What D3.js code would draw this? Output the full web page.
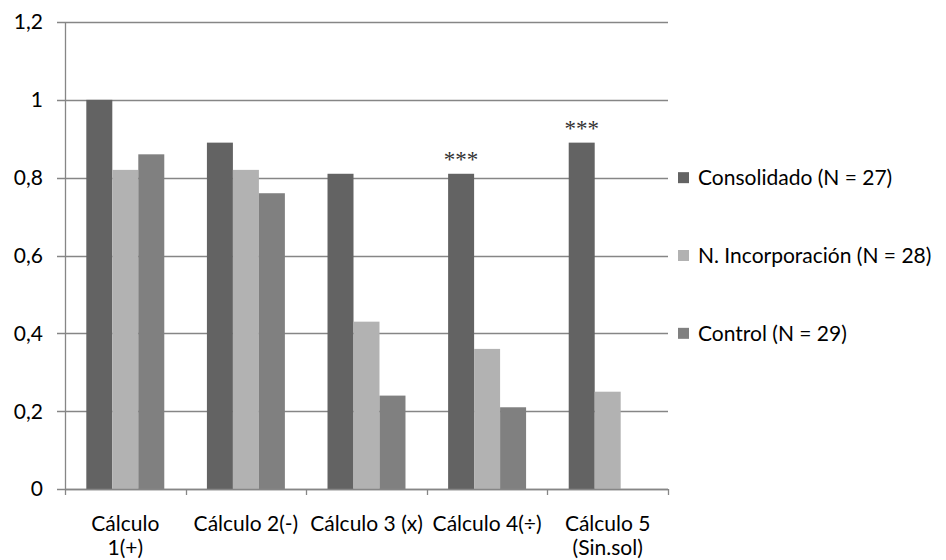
<!DOCTYPE html>
<html>
<head>
<meta charset="utf-8">
<script src="https://cdn.jsdelivr.net/npm/d3@7"></script>
<style>
  body { margin: 0; background: #fff; }
  text { font-family: Lato, "Open Sans", sans-serif; fill: #000; }
</style>
</head>
<body>
<div id="chart"></div>
<script>
var categories = ["Cálculo 1(+)", "Cálculo 2(-)", "Cálculo 3 (x)", "Cálculo 4(÷)", "Cálculo 5 (Sin.sol)"];
var categoryLines = [["Cálculo", "1(+)"], ["Cálculo 2(-)"], ["Cálculo 3 (x)"], ["Cálculo 4(÷)"], ["Cálculo 5", "(Sin.sol)"]];
var seriesNames = ["Consolidado (N = 27)", "N. Incorporación (N = 28)", "Control (N = 29)"];
var consolidado = [1.00, 0.89, 0.81, 0.81, 0.89];
var incorporacion = [0.82, 0.82, 0.43, 0.36, 0.25];
var control = [0.86, 0.76, 0.24, 0.21, null];
var significance = ["", "", "", "***", "***"];
var yTicks = [0, 0.2, 0.4, 0.6, 0.8, 1, 1.2];
var colors = ["#636363", "#b2b2b2", "#808080"];

var seriesValues = [consolidado, incorporacion, control];

var margin = {top: 22, right: 278, bottom: 71, left: 65};
var width = 946 - margin.left - margin.right;
var height = 560 - margin.top - margin.bottom;

var svg = d3.select("#chart").append("svg")
  .attr("width", 946)
  .attr("height", 560)
  .append("g")
  .attr("transform", "translate(" + margin.left + "," + margin.top + ")");

var x = d3.scaleBand().domain(categories).range([0, width]).paddingInner(0).paddingOuter(0);
var x1 = d3.scaleBand().domain(d3.range(3)).range([0, x.bandwidth()]).paddingInner(0).paddingOuter(0.82);
var y = d3.scaleLinear().domain([0, 1.2]).range([height, 0]);

// gridlines
svg.selectAll("line.grid")
  .data(yTicks)
  .enter().append("line")
  .attr("class", "grid")
  .attr("x1", -8)
  .attr("x2", width)
  .attr("y1", function(d) { return Math.round(y(d)) + 0.5; })
  .attr("y2", function(d) { return Math.round(y(d)) + 0.5; })
  .attr("stroke", "#868686")
  .attr("stroke-width", 1.3);

svg.selectAll("text.ylab")
  .data(yTicks)
  .enter().append("text")
  .attr("class", "ylab")
  .attr("x", -22)
  .attr("y", function(d) { return y(d); })
  .attr("dy", "0.35em")
  .attr("text-anchor", "end")
  .style("font-size", "21px")
  .text(function(d) { return String(d).replace(".", ","); });

// bars
var groups = svg.selectAll("g.cat")
  .data(categories)
  .enter().append("g")
  .attr("class", "cat")
  .attr("transform", function(d) { return "translate(" + x(d) + ",0)"; });

groups.selectAll("rect")
  .data(function(d, i) {
    return seriesValues.map(function(s, j) { return {s: j, v: s[i]}; })
      .filter(function(e) { return e.v != null; });
  })
  .enter().append("rect")
  .attr("x", function(d) { return x1(d.s); })
  .attr("width", x1.bandwidth())
  .attr("y", function(d) { return y(d.v); })
  .attr("height", function(d) { return height - y(d.v); })
  .attr("fill", function(d) { return colors[d.s]; });

// significance marks
groups.append("text")
  .attr("x", x1(0) + x1.bandwidth() / 2)
  .attr("y", function(d, i) { return y(consolidado[i]) - 7; })
  .attr("text-anchor", "middle")
  .style("font-family", "'Liberation Serif', serif")
  .style("font-size", "23px")
  .style("fill", "#333")
  .text(function(d, i) { return significance[i]; });

// axes
svg.append("line")
  .attr("x1", 0.5).attr("x2", 0.5)
  .attr("y1", 0).attr("y2", height)
  .attr("stroke", "#868686").attr("stroke-width", 1.3);

svg.append("line")
  .attr("x1", 0).attr("x2", width)
  .attr("y1", height + 0.5).attr("y2", height + 0.5)
  .attr("stroke", "#868686").attr("stroke-width", 1.3);

var tickPos = categories.map(function(c) { return x(c); }).concat([width]);
svg.selectAll("line.xtick")
  .data(tickPos)
  .enter().append("line")
  .attr("class", "xtick")
  .attr("x1", function(d) { return Math.round(d) + 0.5; })
  .attr("x2", function(d) { return Math.round(d) + 0.5; })
  .attr("y1", height)
  .attr("y2", height + 6)
  .attr("stroke", "#868686").attr("stroke-width", 1.3);

groups.append("text")
  .attr("x", x.bandwidth() / 2)
  .attr("y", height + 42)
  .attr("text-anchor", "middle")
  .style("font-size", "21px")
  .each(function(d, i) {
    var t = d3.select(this);
    categoryLines[i].forEach(function(line, k) {
      t.append("tspan")
        .attr("x", x.bandwidth() / 2)
        .attr("dy", k === 0 ? 0 : 24)
        .text(line);
    });
  });

// legend
var legend = svg.selectAll("g.legend")
  .data(seriesNames)
  .enter().append("g")
  .attr("class", "legend")
  .attr("transform", function(d, i) { return "translate(" + (width + 10) + "," + y(0.8 - 0.2 * i) + ")"; });

legend.append("rect")
  .attr("x", 0).attr("y", -5.5)
  .attr("width", 11).attr("height", 11)
  .attr("fill", function(d, i) { return colors[i]; });

legend.append("text")
  .attr("x", 20)
  .attr("dy", "0.35em")
  .style("font-size", "21px")
  .text(function(d) { return d; });
</script>
</body>
</html>
